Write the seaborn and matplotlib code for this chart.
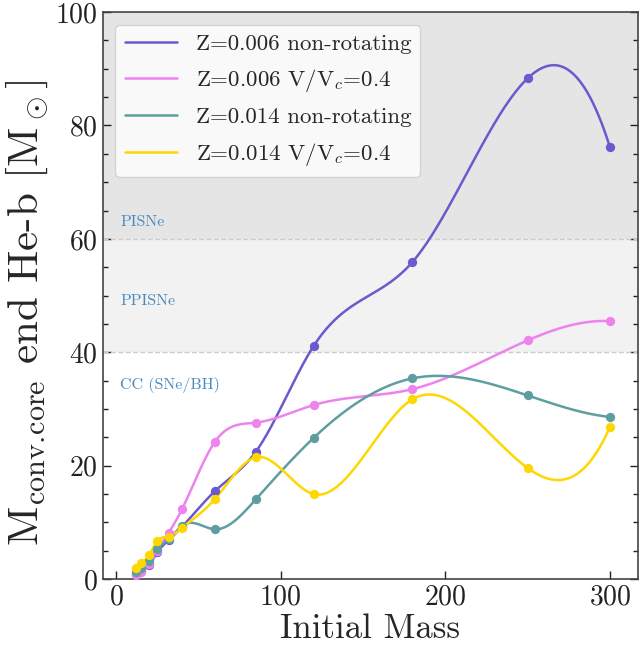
import numpy as np
import pandas as pd
import matplotlib
matplotlib.use("Agg")
import matplotlib.pyplot as plt
import seaborn as sns
from matplotlib.ticker import MultipleLocator

# Initial masses of the model grid
masses = [12, 15, 20, 25, 32, 40, 60, 85, 120, 180, 250, 300]

# Convective core mass at the end of He burning
z006_nonrot = [0.9, 1.5, 2.5, 4.7, 6.9, 9.2, 15.5, 22.5, 41.1, 55.9, 88.3, 76.2]
z006_rot = [0.7, 1.3, 2.6, 5.0, 8.2, 12.3, 24.2, 27.6, 30.7, 33.5, 42.1, 45.5]
z014_nonrot = [1.2, 2.0, 3.2, 5.3, 7.0, 9.4, 8.8, 14.1, 24.9, 35.4, 32.4, 28.6]
z014_rot = [1.9, 2.8, 4.2, 6.7, 7.5, 9.0, 14.1, 21.5, 15.0, 31.7, 19.6, 26.8]

labels = [
    "Z=0.006 non-rotating",
    r"Z=0.006 V/V$_c$=0.4",
    "Z=0.014 non-rotating",
    r"Z=0.014 V/V$_c$=0.4",
]
colors = ["slateblue", "violet", "cadetblue", "gold"]

regions = ["PISNe", "PPISNe", "CC (SNe/BH)"]
region_y = [63.0, 49.0, 34.2]


def spline_curve(x, y, num=500):
    """Not-a-knot cubic spline through the model points"""
    x = np.asarray(x, float)
    y = np.asarray(y, float)
    n = len(x)
    h = np.diff(x)
    A = np.zeros((n, n))
    b = np.zeros(n)
    A[0, :3] = [h[1], -(h[0] + h[1]), h[0]]
    A[-1, -3:] = [h[-1], -(h[-2] + h[-1]), h[-2]]
    for i in range(1, n - 1):
        A[i, i - 1:i + 2] = [h[i - 1], 2 * (h[i - 1] + h[i]), h[i]]
        b[i] = 6 * ((y[i + 1] - y[i]) / h[i] - (y[i] - y[i - 1]) / h[i - 1])
    m = np.linalg.solve(A, b)
    xs = np.linspace(x[0], x[-1], num)
    k = np.clip(np.searchsorted(x, xs) - 1, 0, n - 2)
    hk = h[k]
    dl = xs - x[k]
    dr = x[k + 1] - xs
    ys = (m[k] * dr**3 + m[k + 1] * dl**3) / (6 * hk) \
        + (y[k] / hk - m[k] * hk / 6) * dr \
        + (y[k + 1] / hk - m[k + 1] * hk / 6) * dl
    return xs, ys


sns.set_theme(style="ticks")
plt.rcParams["font.family"] = ["cmr10", "DejaVu Serif"]
plt.rcParams["mathtext.fontset"] = "cm"
plt.rcParams["axes.formatter.use_mathtext"] = True
plt.rcParams["axes.unicode_minus"] = False

fig = plt.figure(figsize=(6.43, 6.5), dpi=100)
ax = fig.add_axes([0.160, 0.109, 0.832, 0.8725])

# SN regimes
ax.axhspan(60, 100, color="#e5e5e5", zorder=0, lw=0)
ax.axhspan(40, 60, color="#f2f2f2", zorder=0, lw=0)
for yl in (40, 60):
    ax.axhline(yl, color="#cccccc", ls="--", lw=1.0, zorder=1)
for name, yy in zip(regions, region_y):
    ax.text(2.5, yy, name, color="#4a8bbf", fontsize=11.5, va="center", ha="left")

series = [z006_nonrot, z006_rot, z014_nonrot, z014_rot]
for vals, lab, col in zip(series, labels, colors):
    xs, ys = spline_curve(masses, vals)
    sns.lineplot(x=xs, y=ys, color=col, lw=1.8, label=lab, ax=ax,
                 estimator=None, sort=False)
    df = pd.DataFrame({"mass": masses, "core": vals})
    sns.scatterplot(data=df, x="mass", y="core", color=col, s=45,
                    edgecolor=col, linewidth=0, ax=ax, zorder=3)

ax.set_xlim(-8, 317)
ax.set_ylim(0, 100)
ax.set_xticks([0, 100, 200, 300])
ax.yaxis.set_major_locator(MultipleLocator(20))
ax.yaxis.set_minor_locator(MultipleLocator(5))
ax.tick_params(axis="both", which="both", direction="in", right=True,
               labelsize=20, colors="#222222")
ax.tick_params(axis="both", which="major", length=6, width=1.0)
ax.tick_params(axis="both", which="minor", length=3.5, width=1.0)
for sp in ax.spines.values():
    sp.set_color("#444444")
    sp.set_linewidth(1.2)

ax.set_xlabel("Initial Mass", fontsize=25, labelpad=2)
ax.set_ylabel(r"M$_{\rm conv.\!core}$ end He-b [$\mathrm{M}_\odot$]", fontsize=31,
              labelpad=4, y=0.47)

leg = ax.legend(loc="upper left", fontsize=16.5, handlelength=2.3,
                borderaxespad=0.55, labelspacing=0.58)

fig.savefig("out.png", dpi=100)
